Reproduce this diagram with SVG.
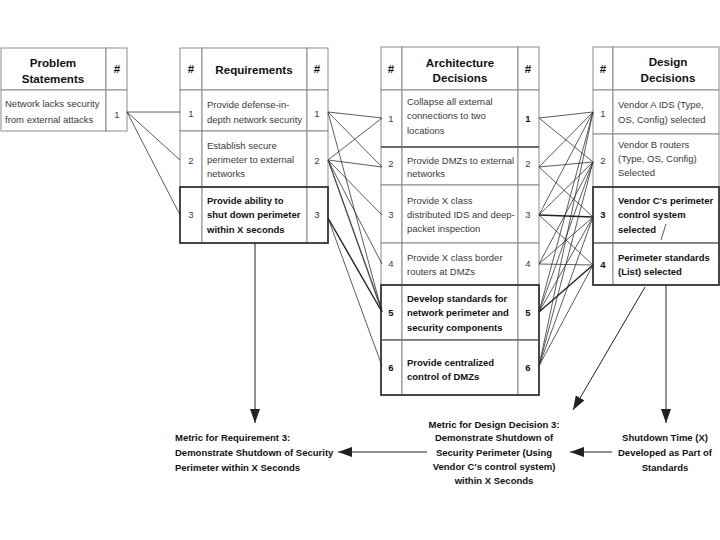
<svg xmlns="http://www.w3.org/2000/svg" width="720" height="540" viewBox="0 0 720 540">
<defs>
<style>
.cell{fill:#fff;stroke:#8a8a8a;stroke-width:1}
.bc{fill:none;stroke:#3a3a3a;stroke-width:1.8}
text{font-family:"Liberation Sans",Arial,Helvetica,sans-serif}
.t{font-size:9.5px;fill:#3a3a3a}
.b{font-size:9.5px;font-weight:bold;fill:#111}
.h{font-size:11.6px;font-weight:bold;fill:#111;text-anchor:middle}
.n{text-anchor:middle}
.m{text-anchor:middle}
.c{stroke:#333;stroke-width:0.8;fill:none}
.cb{stroke:#222;stroke-width:1.4;fill:none}
.a{stroke:#222;stroke-width:1;fill:none;marker-end:url(#ah)}
</style>
<marker id="ah" markerUnits="userSpaceOnUse" markerWidth="14" markerHeight="10" refX="14" refY="5" orient="auto">
<path d="M0,0 L14,5 L0,10 z" fill="#222"/>
</marker>
</defs>
<rect width="720" height="540" fill="#fff"/>

<g id="problem">
<rect class="cell" x="1" y="48" width="105" height="42"/>
<rect class="cell" x="106" y="48" width="21" height="42"/>
<rect class="cell" x="1" y="90" width="105" height="41"/>
<rect class="cell" x="106" y="90" width="21" height="41"/>
<text class="h" x="53" y="67">Problem</text>
<text class="h" x="53" y="83">Statements</text>
<text class="h" x="117" y="73">#</text>
<text class="t" x="5" y="107">Network lacks security</text>
<text class="t" x="5" y="123">from external attacks</text>
<text class="t n" x="117" y="118">1</text>
</g>

<g id="requirements">
<rect class="cell" x="180" y="48" width="22" height="42"/>
<rect class="cell" x="202" y="48" width="105" height="42"/>
<rect class="cell" x="307" y="48" width="21" height="42"/>
<rect class="cell" x="180" y="90" width="22" height="41"/>
<rect class="cell" x="202" y="90" width="105" height="41"/>
<rect class="cell" x="307" y="90" width="21" height="41"/>
<rect class="cell" x="180" y="131" width="22" height="56"/>
<rect class="cell" x="202" y="131" width="105" height="56"/>
<rect class="cell" x="307" y="131" width="21" height="56"/>
<rect class="cell" x="180" y="187" width="22" height="56"/>
<rect class="cell" x="202" y="187" width="105" height="56"/>
<rect class="cell" x="307" y="187" width="21" height="56"/>
<rect class="bc" x="180" y="187" width="148" height="56"/>
<text class="h" x="191" y="73">#</text>
<text class="h" x="254" y="74">Requirements</text>
<text class="h" x="317" y="73">#</text>
<text class="t" x="207" y="108">Provide defense-in-</text>
<text class="t" x="207" y="123">depth network security</text>
<text class="t n" x="191" y="117">1</text>
<text class="t n" x="317" y="117">1</text>
<text class="t" x="207" y="149">Establish secure</text>
<text class="t" x="207" y="163">perimeter to external</text>
<text class="t" x="207" y="177">networks</text>
<text class="t n" x="191" y="164">2</text>
<text class="t n" x="317" y="164">2</text>
<text class="b" x="207" y="204">Provide ability to</text>
<text class="b" x="207" y="218">shut down perimeter</text>
<text class="b" x="207" y="233">within X seconds</text>
<text class="t n" x="191" y="218">3</text>
<text class="t n" x="317" y="218">3</text>
</g>

<g id="architecture">
<rect class="cell" x="381" y="47" width="21" height="43"/>
<rect class="cell" x="402" y="47" width="116" height="43"/>
<rect class="cell" x="518" y="47" width="21" height="43"/>
<rect class="cell" x="381" y="90" width="21" height="57"/>
<rect class="cell" x="402" y="90" width="116" height="57"/>
<rect class="cell" x="518" y="90" width="21" height="57"/>
<rect class="cell" x="381" y="147" width="21" height="38"/>
<rect class="cell" x="402" y="147" width="116" height="38"/>
<rect class="cell" x="518" y="147" width="21" height="38"/>
<rect class="cell" x="381" y="185" width="21" height="58"/>
<rect class="cell" x="402" y="185" width="116" height="58"/>
<rect class="cell" x="518" y="185" width="21" height="58"/>
<rect class="cell" x="381" y="243" width="21" height="42"/>
<rect class="cell" x="402" y="243" width="116" height="42"/>
<rect class="cell" x="518" y="243" width="21" height="42"/>
<rect class="cell" x="381" y="285" width="21" height="55"/>
<rect class="cell" x="402" y="285" width="116" height="55"/>
<rect class="cell" x="518" y="285" width="21" height="55"/>
<rect class="cell" x="381" y="340" width="21" height="55"/>
<rect class="cell" x="402" y="340" width="116" height="55"/>
<rect class="cell" x="518" y="340" width="21" height="55"/>
<rect class="bc" x="381" y="285" width="158" height="110"/>
<line x1="381" y1="340" x2="539" y2="340" stroke="#555" stroke-width="1.2"/>
<line x1="381" y1="147" x2="539" y2="147" stroke="#555" stroke-width="1.4"/>
<text class="h" x="391" y="73">#</text>
<text class="h" x="460" y="67">Architecture</text>
<text class="h" x="460" y="82">Decisions</text>
<text class="h" x="528" y="73">#</text>
<text class="t" x="407" y="105">Collapse all external</text>
<text class="t" x="407" y="119">connections to two</text>
<text class="t" x="407" y="134">locations</text>
<text class="t n" x="391" y="122">1</text>
<text class="b n" x="528" y="122">1</text>
<text class="t" x="407" y="164">Provide DMZs to external</text>
<text class="t" x="407" y="177">networks</text>
<text class="t n" x="391" y="167">2</text>
<text class="t n" x="528" y="167">2</text>
<text class="t" x="407" y="204">Provide X class</text>
<text class="t" x="407" y="218">distributed IDS and deep-</text>
<text class="t" x="407" y="232">packet inspection</text>
<text class="t n" x="391" y="218">3</text>
<text class="t n" x="528" y="218">3</text>
<text class="t" x="407" y="261">Provide X class border</text>
<text class="t" x="407" y="275">routers at DMZs</text>
<text class="t n" x="391" y="267">4</text>
<text class="t n" x="528" y="267">4</text>
<text class="b" x="407" y="302">Develop standards for</text>
<text class="b" x="407" y="316">network perimeter and</text>
<text class="b" x="407" y="331">security components</text>
<text class="b n" x="391" y="316">5</text>
<text class="b n" x="528" y="316">5</text>
<text class="b" x="407" y="366">Provide centralized</text>
<text class="b" x="407" y="380">control of DMZs</text>
<text class="b n" x="391" y="371">6</text>
<text class="b n" x="528" y="371">6</text>
</g>

<g id="design">
<rect class="cell" x="593" y="47" width="20" height="43"/>
<rect class="cell" x="613" y="47" width="106" height="43"/>
<rect class="cell" x="593" y="90" width="20" height="44"/>
<rect class="cell" x="613" y="90" width="106" height="44"/>
<rect class="cell" x="593" y="134" width="20" height="53"/>
<rect class="cell" x="613" y="134" width="106" height="53"/>
<rect class="cell" x="593" y="187" width="20" height="56"/>
<rect class="cell" x="613" y="187" width="106" height="56"/>
<rect class="cell" x="593" y="243" width="20" height="42"/>
<rect class="cell" x="613" y="243" width="106" height="42"/>
<rect class="bc" x="593" y="187" width="126" height="98"/>
<line x1="593" y1="243" x2="719" y2="243" stroke="#555" stroke-width="1.2"/>
<text class="h" x="603" y="73">#</text>
<text class="h" x="668" y="66">Design</text>
<text class="h" x="668" y="82">Decisions</text>
<text class="t" x="618" y="108">Vendor A IDS (Type,</text>
<text class="t" x="618" y="123">OS, Config) selected</text>
<text class="t n" x="603" y="117">1</text>
<text class="t" x="618" y="148">Vendor B routers</text>
<text class="t" x="618" y="162">(Type, OS, Config)</text>
<text class="t" x="618" y="176">Selected</text>
<text class="t n" x="603" y="164">2</text>
<text class="b" x="618" y="204">Vendor C's perimeter</text>
<text class="b" x="618" y="218">control system</text>
<text class="b" x="618" y="233">selected</text>
<text class="b n" x="603" y="218">3</text>
<text class="b" x="618" y="261">Perimeter standards</text>
<text class="b" x="618" y="275">(List) selected</text>
<text class="b n" x="603" y="268">4</text>
</g>

<g id="metric-req3">
<text class="b" x="175" y="441">Metric for Requirement 3:</text>
<text class="b" x="175" y="456">Demonstrate Shutdown of Security</text>
<text class="b" x="175" y="471">Perimeter within X Seconds</text>
</g>
<g id="metric-dd3">
<text class="b m" x="494" y="428">Metric for Design Decision 3:</text>
<text class="b m" x="494" y="441">Demonstrate Shutdown of</text>
<text class="b m" x="494" y="456">Security Perimeter (Using</text>
<text class="b m" x="494" y="470">Vendor C's control system)</text>
<text class="b m" x="494" y="484">within X Seconds</text>
</g>
<g id="shutdown-time">
<text class="b m" x="665" y="441">Shutdown Time (X)</text>
<text class="b m" x="665" y="456">Developed as Part of</text>
<text class="b m" x="665" y="471">Standards</text>
</g>

<g id="connectors">
<path class="c" d="M127,112 L180,112 M127,112 L180,160 M127,112 L180,215"/>
<path class="c" d="M328,112 L382,118 M328,112 L382,167 M328,112 L382,312
M328,160 L382,118 M328,160 L382,167 M328,160 L382,215 M328,160 L382,264 M328,160 L382,312 M329,162 L382,310
M328,218 L382,366"/>
<path class="cb" d="M328,218 L382,312"/>
<path class="c" d="M539,118 L593,112 M539,118 L593,162
M539,167 L593,112 M539,167 L593,162 M539,167 L593,217
M539,215 L593,112 M539,215 L593,162 M539,215 L593,265
M539,264 L593,162 M539,264 L593,217 M539,264 L593,265
M539,312 L593,112 M539,312 L593,162 M539,312 L593,217
M539,366 L593,112 M539,366 L593,162 M539,366 L593,217 M539,366 L593,265"/>
<path class="cb" d="M539,215 L593,217 M539,312 L593,265"/>
<path class="a" d="M255,243 L255,423"/>
<path class="a" d="M427,452 L338,452"/>
<path class="c" d="M666,224 L661,240"/>
<path class="a" d="M645,287 L573,410"/>
<path class="a" d="M666,285 L666,423"/>
<path class="a" d="M612,452 L570,452"/>
</g>
</svg>
